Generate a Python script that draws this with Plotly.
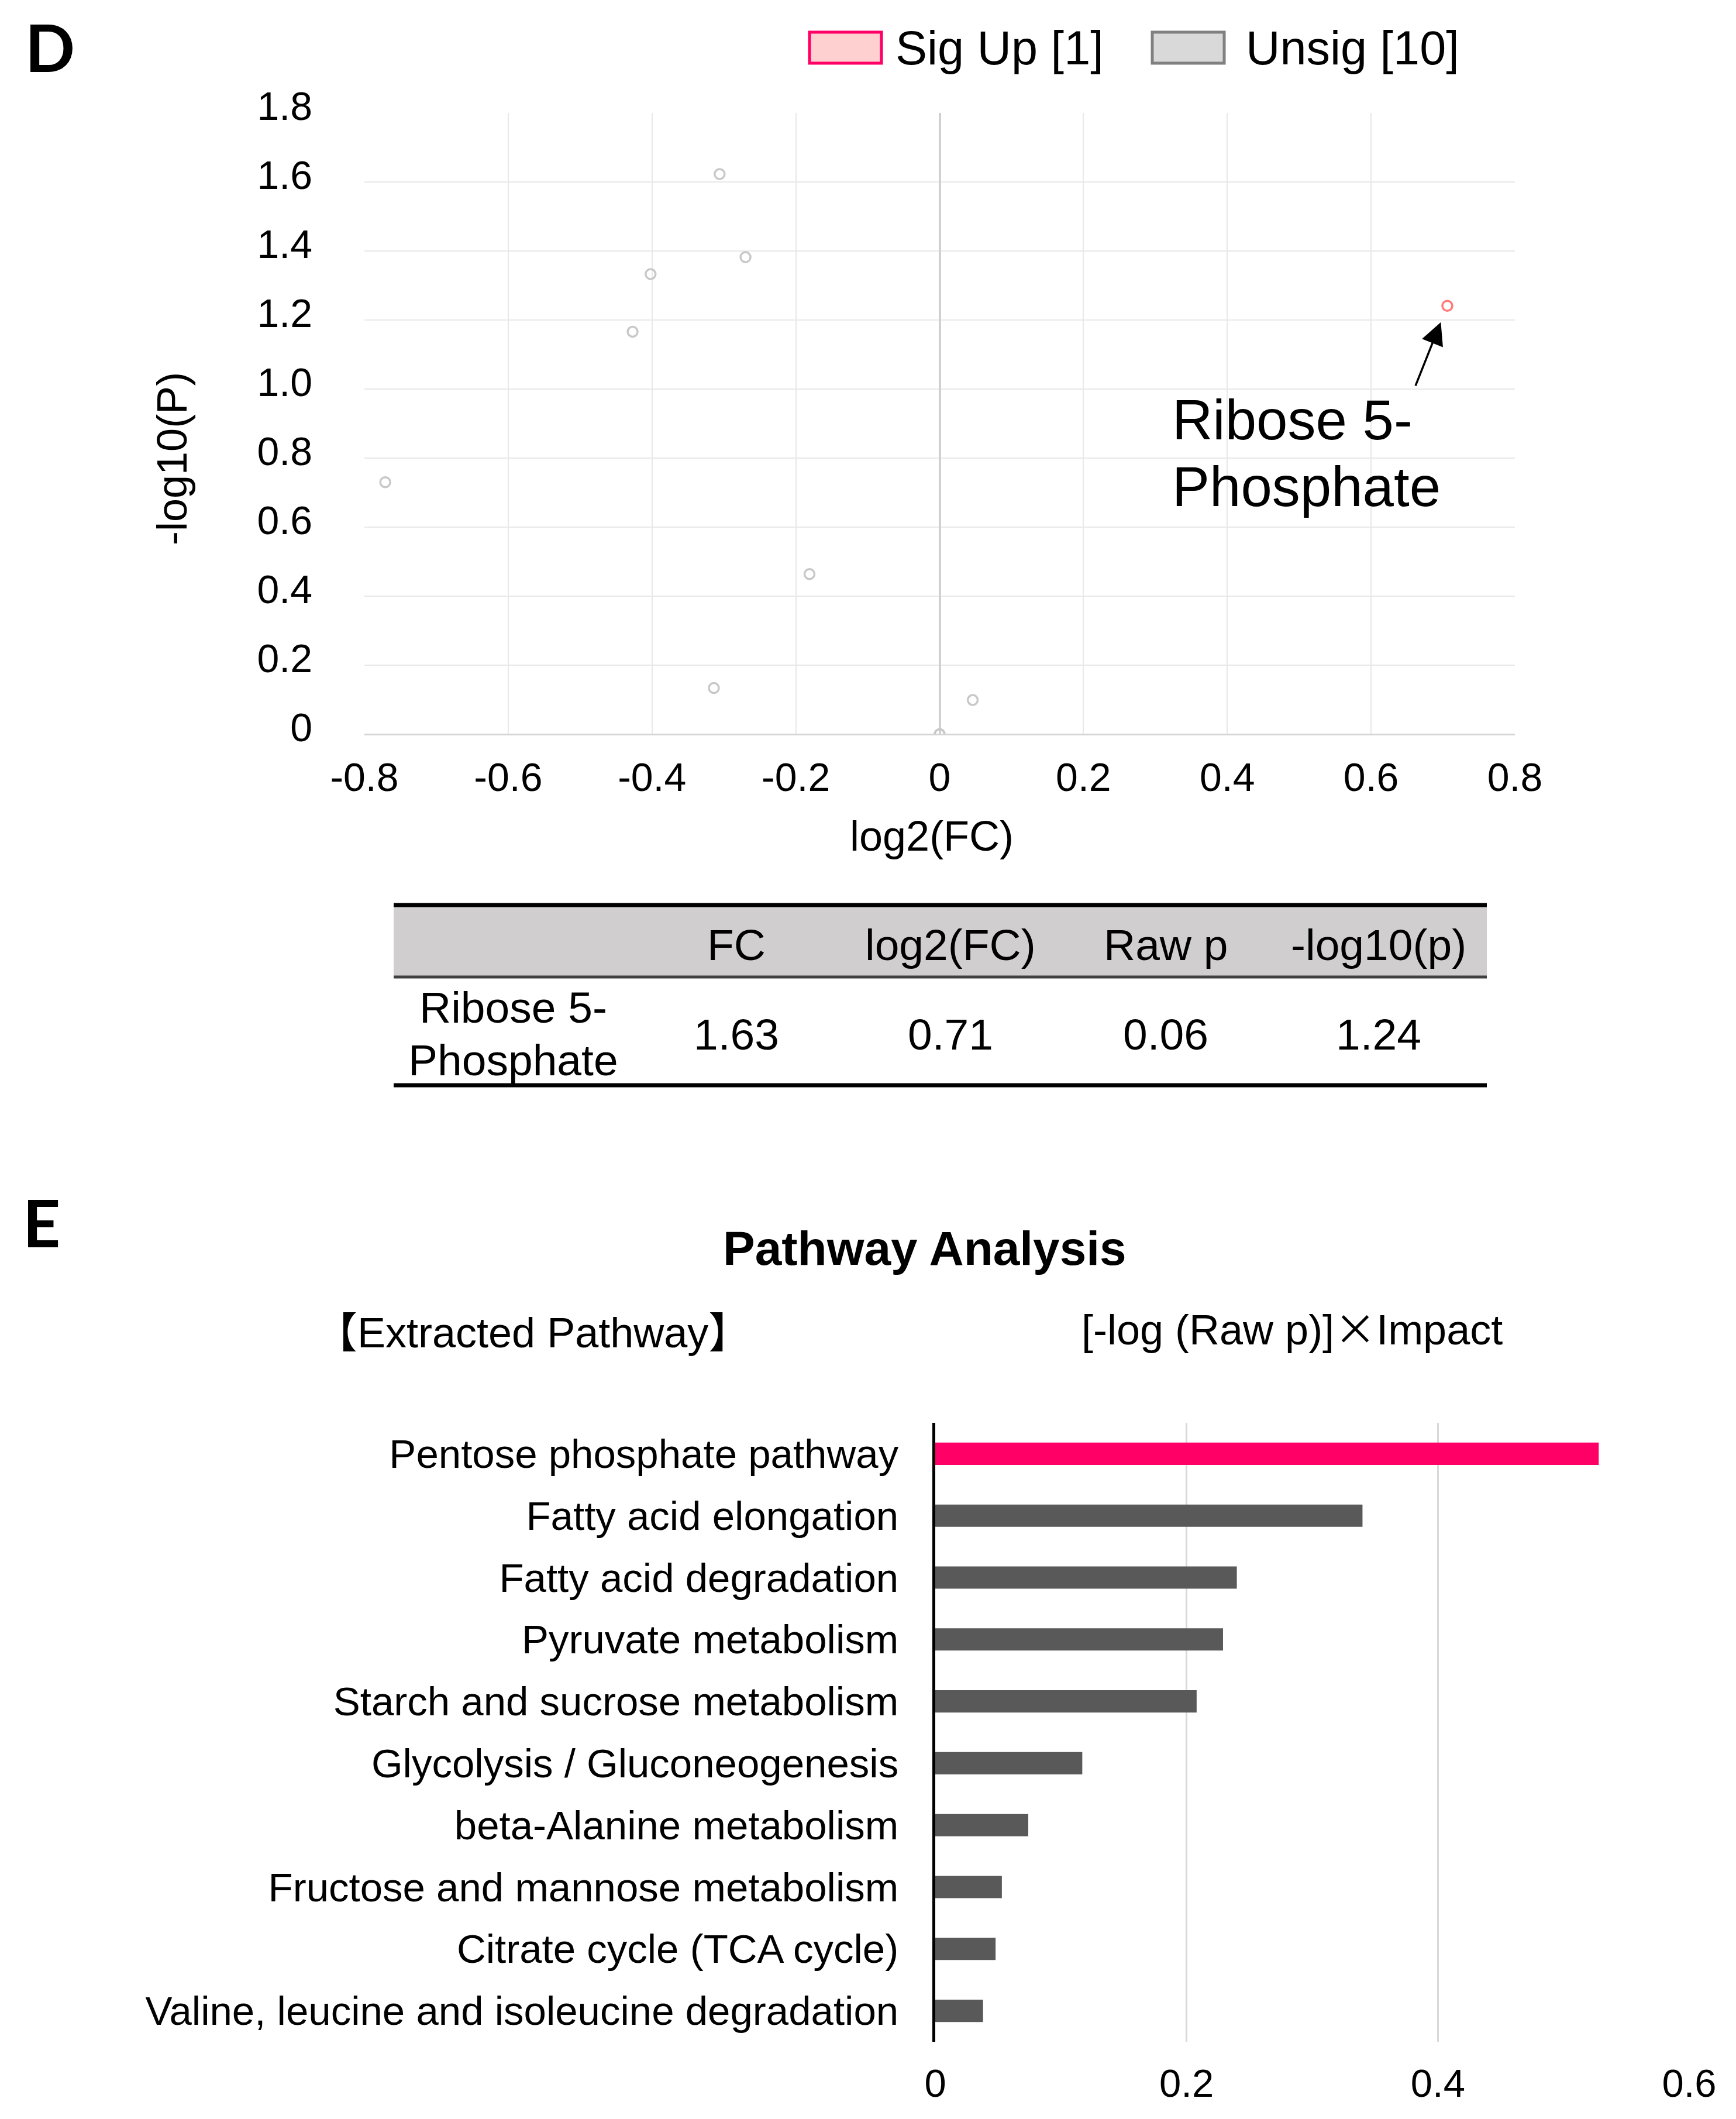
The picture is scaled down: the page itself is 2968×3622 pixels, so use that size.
import plotly.graph_objects as go

W, H = 2968, 3622

# ---------------- data: volcano (panel D) ----------------
unsig_log2fc = [-0.771, -0.306, -0.270, -0.402, -0.427, -0.181, -0.314, 0.046, 0.0, 0.0]
unsig_nlog10p = [0.730, 1.623, 1.382, 1.333, 1.166, 0.464, 0.134, 0.099, 0.0, 0.0]
sig_names = ["Ribose 5-Phosphate"]
sig_log2fc = [0.706]
sig_nlog10p = [1.241]

volcano_xticks = [-0.8, -0.6, -0.4, -0.2, 0, 0.2, 0.4, 0.6, 0.8]
volcano_xtext = ["-0.8", "-0.6", "-0.4", "-0.2", "0", "0.2", "0.4", "0.6", "0.8"]
volcano_yticks = [0, 0.2, 0.4, 0.6, 0.8, 1.0, 1.2, 1.4, 1.6, 1.8]
volcano_ytext = ["0", "0.2", "0.4", "0.6", "0.8", "1.0", "1.2", "1.4", "1.6", "1.8"]

# ---------------- data: table ----------------
table_header = ["FC", "log2(FC)", "Raw p", "-log10(p)"]
table_row_label = ["Ribose 5-", "Phosphate"]
table_row_values = ["1.63", "0.71", "0.06", "1.24"]

# ---------------- data: pathway bars (panel E) ----------------
pathways = [
    "Pentose phosphate pathway",
    "Fatty acid elongation",
    "Fatty acid degradation",
    "Pyruvate metabolism",
    "Starch and sucrose metabolism",
    "Glycolysis / Gluconeogenesis",
    "beta-Alanine metabolism",
    "Fructose and mannose metabolism",
    "Citrate cycle (TCA cycle)",
    "Valine, leucine and isoleucine degradation",
]
pathway_scores = [0.528, 0.340, 0.240, 0.229, 0.208, 0.117, 0.074, 0.053, 0.048, 0.038]
highlight_pathway = "Pentose phosphate pathway"
bar_xticks = [0, 0.2, 0.4, 0.6]
bar_xtext = ["0", "0.2", "0.4", "0.6"]

# ---------------- helpers ----------------
OFF_X, OFF_Y = 11, 12  # compensate for page offset


def px(x):
    return (x - OFF_X) / W


def py(y):
    return 1 - (y - OFF_Y) / H


FONT = "Liberation Sans, Arial, Noto Sans CJK JP, sans-serif"
BLACK = "#000000"


def text_at(text, x, y, size, xanchor="center", family=FONT, **kw):
    return dict(text=text, x=px(x), y=py(y), xref="paper", yref="paper",
                xanchor=xanchor, yanchor="middle", showarrow=False,
                font=dict(family=family, size=size, color=BLACK), **kw)


fig = go.Figure()

# volcano traces
fig.add_trace(go.Scatter(
    x=unsig_log2fc, y=unsig_nlog10p, mode="markers", name="Unsig",
    marker=dict(symbol="circle-open", size=17, color="#c8c8c8", line=dict(width=3.5, color="#c8c8c8")),
    xaxis="x", yaxis="y", showlegend=False,
))
fig.add_trace(go.Scatter(
    x=sig_log2fc, y=sig_nlog10p, mode="markers", name="Sig Up",
    marker=dict(symbol="circle-open", size=17, color="#ff7b7b", line=dict(width=3.5, color="#ff7b7b")),
    xaxis="x", yaxis="y", showlegend=False,
))

# pathway bars
bar_colors = ["#ff0066" if p == highlight_pathway else "#595959" for p in pathways]
fig.add_trace(go.Bar(
    x=pathway_scores, y=pathways, orientation="h", width=0.36,
    marker=dict(color=bar_colors, line=dict(width=0)),
    xaxis="x2", yaxis="y2", showlegend=False,
))

shapes = []
annotations = []

# panel letters
annotations.append(text_at("<b>D</b>", 88, 84, 112, family="Lato, Open Sans, sans-serif"))
annotations.append(text_at("<b>E</b>", 74, 2092, 112, family="Lato, Open Sans, sans-serif"))

# custom legend
shapes.append(dict(type="rect", xref="paper", yref="paper", x0=px(1387), x1=px(1510), y0=py(112), y1=py(59),
                   fillcolor="#ffd0d0", line=dict(color="#ff0066", width=5)))
annotations.append(text_at("Sig Up [1]", 1532, 86, 81, xanchor="left"))
shapes.append(dict(type="rect", xref="paper", yref="paper", x0=px(1973), x1=px(2096), y0=py(112), y1=py(59),
                   fillcolor="#d9d9d9", line=dict(color="#808080", width=5)))
annotations.append(text_at("Unsig [10]", 2131, 86, 81, xanchor="left"))

# volcano axis titles
annotations.append(text_at("log2(FC)", 1596, 1433, 72))
annotations.append(text_at("-log10(P)", 297, 788, 72, textangle=-90))

# arrow + label for the significant metabolite
annotations.append(dict(text="", x=sig_log2fc[0], y=sig_nlog10p[0], xref="x", yref="y",
                        showarrow=True, ax=-55, ay=138, axref="pixel", ayref="pixel",
                        arrowhead=2, arrowsize=2.2, arrowwidth=3.5, arrowcolor=BLACK, standoff=30))
label_lines = sig_names[0].replace("5-", "5-\n").split("\n")
annotations.append(text_at(label_lines[0], 2005, 721, 96, xanchor="left"))
annotations.append(text_at(label_lines[1], 2005, 835, 96, xanchor="left"))

# ---------------- table ----------------
tx0, tx1 = 676, 2545
shapes.append(dict(type="rect", xref="paper", yref="paper", x0=px(tx0), x1=px(tx1), y0=py(1674), y1=py(1551),
                   fillcolor="#d0cece", line=dict(width=0), layer="below"))
shapes.append(dict(type="line", xref="paper", yref="paper", x0=px(tx0), x1=px(tx1), y0=py(1551), y1=py(1551),
                   line=dict(color=BLACK, width=7)))
shapes.append(dict(type="line", xref="paper", yref="paper", x0=px(tx0), x1=px(tx1), y0=py(1674), y1=py(1674),
                   line=dict(color="#404040", width=5)))
shapes.append(dict(type="line", xref="paper", yref="paper", x0=px(tx0), x1=px(tx1), y0=py(1859), y1=py(1859),
                   line=dict(color=BLACK, width=7)))
col_x = [1262, 1628, 1996, 2360]
for cx, h in zip(col_x, table_header):
    annotations.append(text_at(h, cx, 1619, 75))
for cx, v in zip(col_x, table_row_values):
    annotations.append(text_at(v, cx, 1772, 75))
for ly, t in zip([1726, 1816], table_row_label):
    annotations.append(text_at(t, 880, ly, 75))

# ---------------- panel E titles ----------------
annotations.append(text_at("<b>Pathway Analysis</b>", 1584, 2137, 82))
annotations.append(text_at("【Extracted Pathway】", 914, 2282, 72))
annotations.append(text_at("[-log (Raw p)]<span style=\"font-family:'Noto Sans CJK JP'\">×</span>Impact",
                           2212, 2270, 72))

fig.update_layout(
    width=W, height=H, autosize=False,
    margin=dict(l=0, r=0, t=0, b=0, pad=0, autoexpand=False),
    paper_bgcolor="white", plot_bgcolor="white",
    font=dict(family=FONT, color=BLACK),
    shapes=shapes, annotations=annotations,
    showlegend=False,
    xaxis=dict(
        domain=[px(626), px(2593)], anchor="y", range=[-0.8, 0.8], automargin=False,
        tickvals=volcano_xticks, ticktext=volcano_xtext,
        tickfont=dict(family=FONT, size=68, color=BLACK),
        showgrid=True, gridcolor="#e8e8e8", gridwidth=2,
        zeroline=True, zerolinecolor="#d0d0d0", zerolinewidth=4,
        showline=False, ticks="", ticklabelstandoff=28, fixedrange=True,
    ),
    yaxis=dict(
        domain=[py(1259), py(197)], anchor="x", range=[0, 1.8], automargin=False,
        tickvals=volcano_yticks, ticktext=volcano_ytext,
        tickfont=dict(family=FONT, size=68, color=BLACK),
        showgrid=True, gridcolor="#e8e8e8", gridwidth=2,
        zeroline=True, zerolinecolor="#d5d5d5", zerolinewidth=3,
        showline=False, ticks="", ticklabelstandoff=88, ticklabelshift=-12, fixedrange=True,
    ),
    xaxis2=dict(
        domain=[px(1602), px(2891)], anchor="y2", range=[0, 0.6], automargin=False,
        tickvals=bar_xticks, ticktext=bar_xtext,
        tickfont=dict(family=FONT, size=67, color=BLACK),
        showgrid=True, gridcolor="#d9d9d9", gridwidth=3,
        zeroline=False, showline=False, ticks="", ticklabelstandoff=26, fixedrange=True,
    ),
    yaxis2=dict(
        domain=[py(3494), py(2436)], anchor="x2", range=[9.5, -0.5], automargin=False,
        type="category", categoryorder="array", categoryarray=pathways,
        tickfont=dict(family=FONT, size=69, color=BLACK),
        showgrid=False, zeroline=False, showline=True, linecolor=BLACK, linewidth=5,
        ticks="", ticklabelstandoff=44, fixedrange=True,
    ),
)

fig.write_html("out.html")
